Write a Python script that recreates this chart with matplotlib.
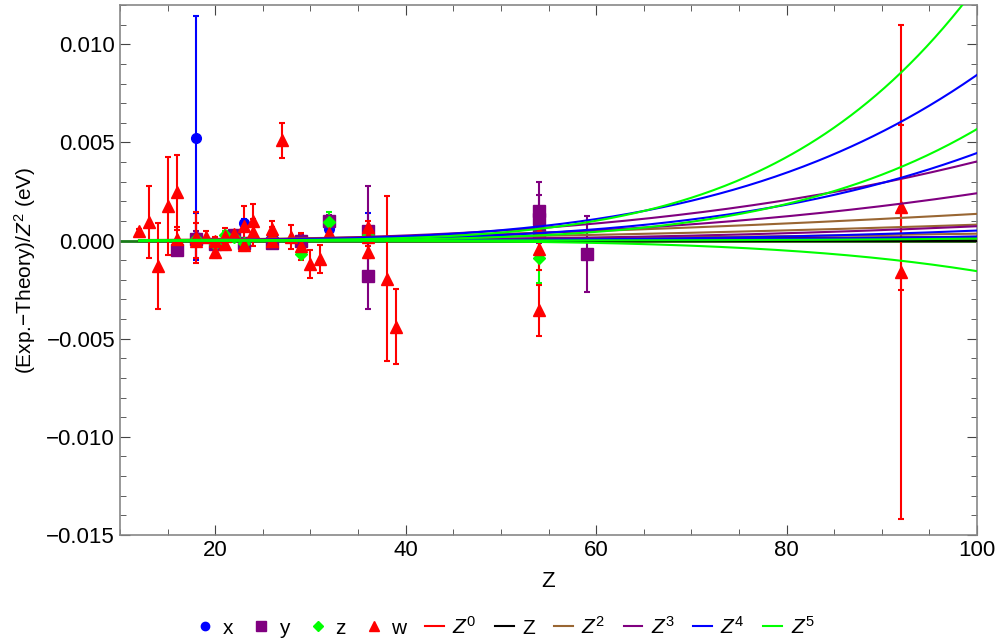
import numpy as np
import matplotlib.pyplot as plt
from matplotlib.lines import Line2D
from matplotlib.ticker import MultipleLocator

plt.rcParams['font.family'] = ['Liberation Sans', 'DejaVu Sans']
plt.rcParams['mathtext.fontset'] = 'custom'
plt.rcParams['mathtext.rm'] = 'Liberation Sans'
plt.rcParams['mathtext.it'] = 'Liberation Sans:italic'

# series x (blue circles)
x_Z = [18, 18, 23, 26, 29, 32, 36]
x_val = [0.00524, 0.0002, 0.0009, 0.0002, -0.0002, 0.0006, 0.00025]
x_err = [0.0062, 0.0012, 0.0002, 0.0002, 0.0002, 0.0002, 0.00115]

# series y (purple squares)
y_Z = [16, 18, 20, 22, 23, 26, 29, 32, 36, 36, 54, 54, 54, 59]
y_val = [-0.00046, 0.0001, -0.0002, 0.0003, -0.0001, -0.0001, 0.0, 0.001,
         0.0005, -0.0018, 0.0015, 0.0011, 0.0003, -0.00068]
y_err = [0.0003, 0.0004, 0.0002, 0.0002, 0.0002, 0.0002, 0.0003, 0.0003,
         0.0023, 0.0017, 0.0015, 0.0012, 0.0003, 0.00195]

# series z (green diamonds)
z_Z = [18, 20, 21, 22, 23, 29, 32, 36, 54]
z_val = [0.0001, -0.0002, 0.0003, 0.0002, -0.0001, -0.00068, 0.00093, 0.0003, -0.00088]
z_err = [0.0001, 0.0002, 0.0002, 0.0001, 0.0002, 0.0001, 0.0005, 0.0002, 0.0013]

# series w (red triangles)
w_Z = [12, 13, 14, 15, 16, 16, 18, 18, 19, 20, 20, 21, 21, 22, 23, 23, 24, 24,
       26, 26, 26, 27, 28, 29, 30, 31, 32, 36, 36, 36, 38, 39, 54, 54, 54, 92, 92]
w_val = [0.00051, 0.00093, -0.00131, 0.00175, 0.00246, 0.0001, 0.00017, 0.0,
         0.0002, -0.0006, 0.0, 0.00025, -0.0002, 0.00034, 0.00076, -0.00025,
         0.00098, 0.00042, 0.0006, 0.0003, 0.0, 0.0051, 0.00017, -0.0003,
         -0.0012, -0.00093, 0.0004, 0.0007, -0.0006, 0.0002, -0.00195, -0.00438,
         0.0004, -0.00042, -0.00356, 0.0017, -0.0016]
w_err = [0.0001, 0.00184, 0.0022, 0.0025, 0.0019, 0.0006, 0.0013, 0.0009,
         0.0003, 0.0003, 0.0002, 0.0004, 0.0003, 0.0002, 0.001, 0.0003,
         0.0009, 0.0007, 0.0004, 0.0004, 0.0003, 0.00088, 0.0006, 0.0007,
         0.0007, 0.0007, 0.0003, 0.0003, 0.0003, 0.0003, 0.0042, 0.0019,
         0.0003, 0.0011, 0.0013, 0.0042, 0.0126]

# fitted power-law curves: value at Z=100 for each fit
powers = [0, 1, 2, 3, 4, 5]
curve_colors = ['#ff0000', '#000000', '#996633', '#800080', '#0000ff', '#00ff00']
coef_at_100 = [
    [0.00002, -0.00003, 0.0, 0.00001],
    [0.00017, 0.00007, 0.00003, 0.0],
    [0.00136, 0.00081, 0.00035, 0.0001],
    [0.00403, 0.00241, 0.00073, 0.0002],
    [0.00844, 0.00446, 0.00051, 0.0002],
    [0.01297, 0.00568, -0.00156, 0.0001],
]
legend_labels = ['$Z^0$', 'Z', '$Z^2$', '$Z^3$', '$Z^4$', '$Z^5$']

fig = plt.figure(figsize=(10, 6.42), dpi=100)
ax = fig.add_axes([0.12, 0.1667, 0.857, 0.8255])

series = [
    (x_Z, x_val, x_err, '#0000ff', 'o', 7),
    (y_Z, y_val, y_err, '#800080', 's', 8),
    (z_Z, z_val, z_err, '#00ff00', 'D', 6),
    (w_Z, w_val, w_err, '#ff0000', '^', 8.5),
]
for zs, vals, errs, col, mk, ms in series:
    ax.errorbar(zs, vals, yerr=errs, fmt=mk, color=col, ms=ms, elinewidth=1.5,
                capsize=2.5, capthick=1.5, mec=col, zorder=3)

ax.axhline(0, color='#1a7a1a', lw=2, zorder=2)
zz = np.linspace(12, 100, 300)
for p, col, coefs in zip(powers, curve_colors, coef_at_100):
    for c in coefs:
        ax.plot(zz, c * (zz / 100.0) ** p, color=col, lw=1.5, zorder=4)

ax.set_xlim(10, 100)
ax.set_ylim(-0.015, 0.012)
ax.xaxis.set_major_locator(MultipleLocator(20))
ax.xaxis.set_minor_locator(MultipleLocator(5))
ax.yaxis.set_major_locator(MultipleLocator(0.005))
ax.yaxis.set_minor_locator(MultipleLocator(0.001))
ax.yaxis.set_major_formatter(plt.FuncFormatter(lambda v, pos: f'{v:.3f}'.replace('-', '\u2212')))
ax.tick_params(which='both', direction='in', top=True, right=True, labelsize=16, colors='#444444',
               labelcolor='black')
ax.tick_params(which='major', length=7)
ax.tick_params(which='minor', length=4)
for s in ax.spines.values():
    s.set_color('#888888')
    s.set_linewidth(1.2)

ax.set_xlabel('Z', fontsize=16, labelpad=7)
ax.set_ylabel('(Exp.\u2212Theory)/$Z^2$ (eV)', fontsize=15, labelpad=6)

handles = [
    Line2D([], [], ls='', marker='o', color='#0000ff', ms=6),
    Line2D([], [], ls='', marker='s', color='#800080', ms=7),
    Line2D([], [], ls='', marker='D', color='#00ff00', ms=5),
    Line2D([], [], ls='', marker='^', color='#ff0000', ms=7),
]
labels = ['x', 'y', 'z', 'w']
for col, lab in zip(curve_colors, legend_labels):
    handles.append(Line2D([], [], color=col, lw=1.5))
    labels.append(lab)
fig.legend(handles, labels, loc='center', bbox_to_anchor=(0.505, 0.024), ncol=10,
           frameon=False, fontsize=15, handlelength=0.9, handletextpad=0.4,
           columnspacing=0.9)

fig.savefig('out.png', dpi=100)
